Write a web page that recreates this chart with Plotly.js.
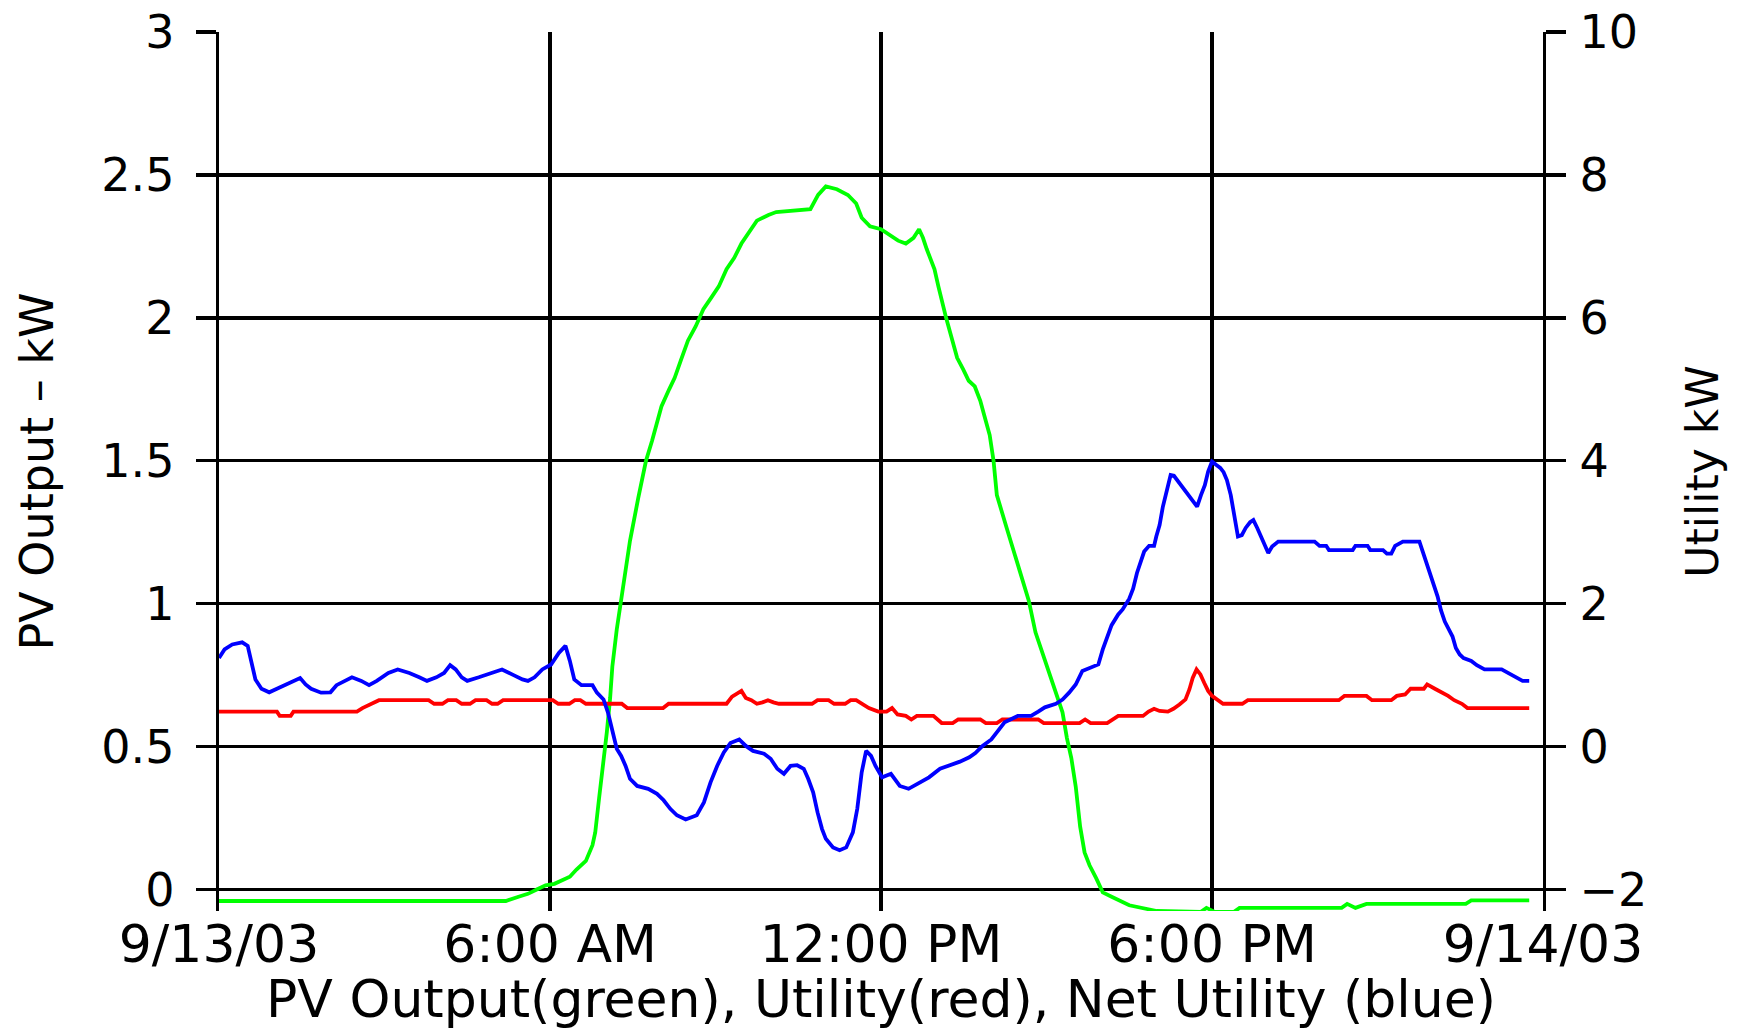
<!DOCTYPE html>
<html>
<head>
<meta charset="utf-8">
<script src="https://cdn.plot.ly/plotly-3.0.1.min.js"></script>
<style>
  html, body { margin: 0; padding: 0; background: #ffffff; }
  #chart { width: 1743px; height: 1029px; }
</style>
</head>
<body>
<div id="chart"></div>
<script>
// ---- Data (hours since 9/13/03 00:00) ----
const tickHours = [0, 6, 12, 18, 24];
const tickLabels = ['9/13/03', '6:00 AM', '12:00 PM', '6:00 PM', '9/14/03'];
const pvTickVals = [0, 0.5, 1, 1.5, 2, 2.5, 3];
const pvTickText = ['0', '0.5', '1', '1.5', '2', '2.5', '3'];
const utilTickVals = [-2, 0, 2, 4, 6, 8, 10];

// PV Output (green), kW, left axis
const pvHours = [0, 5.2, 5.43, 5.6, 5.76, 5.92, 6.08, 6.2, 6.36, 6.48, 6.65, 6.77, 6.82, 6.89, 6.95, 7.03, 7.09, 7.13, 7.21, 7.28,
  7.45, 7.6, 7.74, 7.85, 8.02, 8.16, 8.26, 8.37, 8.5, 8.64, 8.78, 8.92, 9.06, 9.2, 9.34, 9.47, 9.61, 9.75, 9.96, 10.1,
  10.72, 10.86, 11.0, 11.2, 11.4, 11.55, 11.65, 11.8, 12.0, 12.17, 12.31, 12.45, 12.59, 12.69, 12.76, 12.83, 12.9, 12.97, 13.04, 13.1,
  13.18, 13.28, 13.38, 13.49, 13.59, 13.7, 13.8, 13.87, 13.97, 14.04, 14.1, 14.27, 14.5, 14.68, 14.8, 14.89, 14.97, 15.05, 15.13, 15.21,
  15.29, 15.37, 15.45, 15.53, 15.61, 15.69, 15.78, 15.9, 16.02, 16.18, 16.5, 17.0, 17.8, 17.9, 18.05, 18.4, 18.5, 20.35, 20.45, 20.6,
  20.8, 22.6, 22.7, 23.75];
const pvKW = [-0.04, -0.04, -0.025, -0.015, 0.0, 0.015, 0.02, 0.03, 0.045, 0.07, 0.1, 0.155, 0.2, 0.32, 0.41, 0.55, 0.67, 0.78, 0.91, 1.0,
  1.22, 1.37, 1.5, 1.57, 1.69, 1.75, 1.79, 1.85, 1.92, 1.97, 2.03, 2.07, 2.11, 2.17, 2.21, 2.26, 2.30, 2.34, 2.36, 2.37,
  2.38, 2.43, 2.46, 2.45, 2.43, 2.40, 2.35, 2.32, 2.31, 2.29, 2.27, 2.26, 2.28, 2.31, 2.28, 2.24, 2.20, 2.17, 2.11, 2.06,
  2.0, 1.93, 1.86, 1.82, 1.78, 1.76, 1.71, 1.66, 1.59, 1.50, 1.38, 1.27, 1.12, 1.01, 0.90, 0.85, 0.80, 0.76, 0.71, 0.67,
  0.62, 0.53, 0.46, 0.36, 0.22, 0.13, 0.085, 0.04, -0.01, -0.025, -0.055, -0.075, -0.078, -0.064, -0.078, -0.078, -0.064, -0.064, -0.05, -0.064,
  -0.05, -0.05, -0.038, -0.038];

// Utility (red), kW, right axis
const utilHours = [0, 1.05, 1.1, 1.3, 1.35, 2.5, 2.6, 2.75, 2.9, 3.8, 3.9, 4.05, 4.15, 4.3, 4.4, 4.55, 4.65, 4.85, 4.95, 5.05,
  5.15, 6.05, 6.15, 6.35, 6.45, 6.55, 6.65, 7.3, 7.4, 8.05, 8.15, 9.2, 9.3, 9.47, 9.55, 9.65, 9.75, 9.85, 9.95, 10.05,
  10.15, 10.75, 10.85, 11.05, 11.15, 11.35, 11.45, 11.55, 11.65, 11.78, 11.95, 12.1, 12.2, 12.3, 12.45, 12.55, 12.65, 12.95, 13.1, 13.3,
  13.4, 13.8, 13.9, 14.1, 14.2, 14.85, 14.95, 15.6, 15.7, 15.8, 16.1, 16.2, 16.3, 16.75, 16.85, 16.95, 17.05, 17.2, 17.3, 17.41,
  17.52, 17.59, 17.65, 17.72, 17.79, 17.86, 17.93, 18.0, 18.1, 18.2, 18.55, 18.65, 20.3, 20.4, 20.8, 20.9, 21.25, 21.35, 21.5, 21.6,
  21.84, 21.9, 22.04, 22.18, 22.28, 22.39, 22.53, 22.63, 23.75];
const utilKW = [0.49, 0.49, 0.43, 0.43, 0.49, 0.49, 0.54, 0.6, 0.65, 0.65, 0.6, 0.6, 0.65, 0.65, 0.6, 0.6, 0.65, 0.65, 0.6, 0.6,
  0.65, 0.65, 0.6, 0.6, 0.65, 0.65, 0.6, 0.6, 0.54, 0.54, 0.6, 0.6, 0.7, 0.78, 0.68, 0.65, 0.6, 0.62, 0.65, 0.62,
  0.6, 0.6, 0.65, 0.65, 0.6, 0.6, 0.65, 0.65, 0.6, 0.54, 0.49, 0.49, 0.54, 0.45, 0.43, 0.38, 0.43, 0.43, 0.33, 0.33,
  0.38, 0.38, 0.33, 0.33, 0.38, 0.38, 0.33, 0.33, 0.38, 0.33, 0.33, 0.38, 0.43, 0.43, 0.49, 0.53, 0.5, 0.49, 0.53, 0.59,
  0.66, 0.8, 0.96, 1.08, 1.01, 0.89, 0.78, 0.71, 0.65, 0.6, 0.6, 0.65, 0.65, 0.71, 0.71, 0.65, 0.65, 0.71, 0.73, 0.81,
  0.81, 0.87, 0.81, 0.76, 0.71, 0.65, 0.6, 0.54, 0.54];

// Net Utility (blue), kW, right axis
const netHours = [0, 0.1, 0.24, 0.42, 0.52, 0.59, 0.66, 0.77, 0.91, 1.05, 1.19, 1.36, 1.47, 1.57, 1.67, 1.85, 2.02, 2.13, 2.27, 2.41,
  2.58, 2.72, 2.86, 2.97, 3.07, 3.24, 3.45, 3.63, 3.77, 3.94, 4.08, 4.19, 4.29, 4.4, 4.5, 4.71, 4.92, 5.13, 5.34, 5.5,
  5.6, 5.72, 5.86, 6.02, 6.16, 6.28, 6.36, 6.44, 6.57, 6.77, 6.85, 6.97, 7.05, 7.13, 7.21, 7.29, 7.37, 7.45, 7.58, 7.78,
  7.94, 8.06, 8.18, 8.3, 8.46, 8.66, 8.79, 8.91, 9.03, 9.15, 9.27, 9.43, 9.55, 9.68, 9.88, 10.0, 10.12, 10.24, 10.36, 10.48,
  10.6, 10.68, 10.77, 10.85, 10.93, 11.0, 11.13, 11.25, 11.37, 11.49, 11.57, 11.65, 11.73, 11.82, 11.9, 12.02, 12.18, 12.34, 12.5, 12.66,
  12.87, 13.07, 13.23, 13.43, 13.6, 13.71, 13.84, 14.0, 14.12, 14.24, 14.48, 14.72, 14.85, 14.97, 15.17, 15.29, 15.41, 15.53, 15.65, 15.77,
  15.94, 16.02, 16.1, 16.18, 16.3, 16.38, 16.5, 16.57, 16.64, 16.71, 16.77, 16.86, 16.95, 16.99, 17.05, 17.11, 17.19, 17.25, 17.31, 17.39,
  17.46, 17.53, 17.59, 17.67, 17.73, 17.8, 17.87, 17.93, 18.0, 18.08, 18.15, 18.21, 18.27, 18.34, 18.41, 18.47, 18.54, 18.61, 18.69, 18.75,
  18.82, 18.88, 18.95, 19.02, 19.09, 19.2, 19.86, 19.95, 20.07, 20.12, 20.55, 20.6, 20.82, 20.87, 21.1, 21.17, 21.25, 21.32, 21.46, 21.76,
  21.82, 21.88, 21.95, 22.01, 22.09, 22.15, 22.22, 22.3, 22.36, 22.42, 22.49, 22.56, 22.7, 22.8, 22.94, 23.25, 23.36, 23.5, 23.63, 23.75];
const netKW = [1.24, 1.36, 1.43, 1.46, 1.41, 1.17, 0.94, 0.81, 0.76, 0.81, 0.86, 0.92, 0.96, 0.87, 0.81, 0.755, 0.76, 0.86, 0.92, 0.97,
  0.92, 0.86, 0.92, 0.97, 1.03, 1.08, 1.03, 0.97, 0.92, 0.97, 1.03, 1.14, 1.08, 0.97, 0.92, 0.97, 1.03, 1.08, 1.0, 0.94,
  0.92, 0.97, 1.08, 1.15, 1.31, 1.41, 1.2, 0.94, 0.86, 0.86, 0.755, 0.66, 0.48, 0.20, -0.03, -0.13, -0.27, -0.45, -0.55, -0.59,
  -0.66, -0.75, -0.87, -0.96, -1.02, -0.96, -0.78, -0.50, -0.27, -0.08, 0.05, 0.10, 0.01, -0.06, -0.10, -0.17, -0.31, -0.38, -0.27, -0.26,
  -0.31, -0.45, -0.64, -0.92, -1.15, -1.29, -1.41, -1.45, -1.41, -1.20, -0.87, -0.36, -0.06, -0.13, -0.27, -0.43, -0.38, -0.55, -0.59, -0.52,
  -0.43, -0.31, -0.27, -0.21, -0.15, -0.09, 0.01, 0.10, 0.22, 0.34, 0.43, 0.43, 0.49, 0.55, 0.60, 0.66, 0.755, 0.87, 1.06, 1.10,
  1.15, 1.36, 1.55, 1.70, 1.85, 1.92, 2.07, 2.21, 2.43, 2.61, 2.73, 2.81, 2.81, 2.94, 3.10, 3.36, 3.59, 3.80, 3.79, 3.71,
  3.63, 3.57, 3.51, 3.42, 3.36, 3.52, 3.66, 3.85, 3.99, 3.94, 3.90, 3.84, 3.73, 3.52, 3.22, 2.94, 2.96, 3.06, 3.14, 3.17,
  3.06, 2.95, 2.85, 2.71, 2.80, 2.87, 2.87, 2.81, 2.81, 2.75, 2.75, 2.81, 2.81, 2.75, 2.75, 2.70, 2.70, 2.81, 2.87, 2.87,
  2.73, 2.59, 2.43, 2.26, 2.10, 1.91, 1.75, 1.63, 1.54, 1.38, 1.29, 1.24, 1.20, 1.14, 1.08, 1.08, 1.03, 0.97, 0.92, 0.92];

// ---- Chart ----
const FONT = 'DejaVu Sans, Verdana, sans-serif';
const GRID = 3.3;
const LINE = 3.8;

const traces = [
  { x: pvHours, y: pvKW, yaxis: 'y', type: 'scatter', mode: 'lines', name: 'PV Output',
    line: { color: '#00ff00', width: LINE }, hoverinfo: 'skip' },
  { x: utilHours, y: utilKW, yaxis: 'y2', type: 'scatter', mode: 'lines', name: 'Utility',
    line: { color: '#ff0000', width: LINE }, hoverinfo: 'skip' },
  { x: netHours, y: netKW, yaxis: 'y2', type: 'scatter', mode: 'lines', name: 'Net Utility',
    line: { color: '#0000ff', width: LINE }, hoverinfo: 'skip' }
];

const layout = {
  width: 1743, height: 1029,
  margin: { l: 219, r: 200, t: 32, b: 118, pad: 0 },
  paper_bgcolor: '#ffffff', plot_bgcolor: '#ffffff',
  showlegend: false,
  font: { family: FONT, color: '#000000', size: 50 },
  xaxis: {
    range: [0, 24], tickmode: 'array', tickvals: tickHours, ticktext: tickLabels,
    anchor: 'free', position: 0.009,
    showgrid: true, gridcolor: '#000000', gridwidth: GRID,
    zeroline: false, showline: false, ticks: '',
    tickfont: { family: FONT, size: 52, color: '#000000' },
    ticklabelstandoff: 6,
    title: { text: 'PV Output(green), Utility(red), Net Utility (blue)', font: { family: FONT, size: 52, color: '#000000' }, standoff: 14 },
    automargin: false, fixedrange: true
  },
  yaxis: {
    range: [-0.075, 3], tickmode: 'array', tickvals: pvTickVals, ticktext: pvTickText,
    showgrid: true, gridcolor: '#000000', gridwidth: GRID,
    zeroline: false, showline: true, linecolor: '#000000', linewidth: GRID,
    ticks: 'outside', ticklen: 20, tickwidth: GRID, tickcolor: '#000000',
    tickfont: { family: FONT, size: 46, color: '#000000' },
    ticklabelstandoff: 12,
    title: { text: 'PV Output – kW\u00a0\u00a0', font: { family: FONT, size: 46, color: '#000000' }, standoff: 34 },
    automargin: false, fixedrange: true
  },
  yaxis2: {
    overlaying: 'y', side: 'right',
    range: [-2.3, 10], tickmode: 'array', tickvals: utilTickVals,
    showgrid: false, zeroline: false, showline: true, linecolor: '#000000', linewidth: GRID,
    ticks: 'outside', ticklen: 20, tickwidth: GRID, tickcolor: '#000000',
    tickfont: { family: FONT, size: 46, color: '#000000' },
    ticklabelstandoff: 4,
    title: { text: 'Utility kW', font: { family: FONT, size: 44, color: '#000000' }, standoff: 42 },
    automargin: false, fixedrange: true
  }
};

Plotly.newPlot('chart', traces, layout, { displayModeBar: false, staticPlot: true });
</script>
</body>
</html>
